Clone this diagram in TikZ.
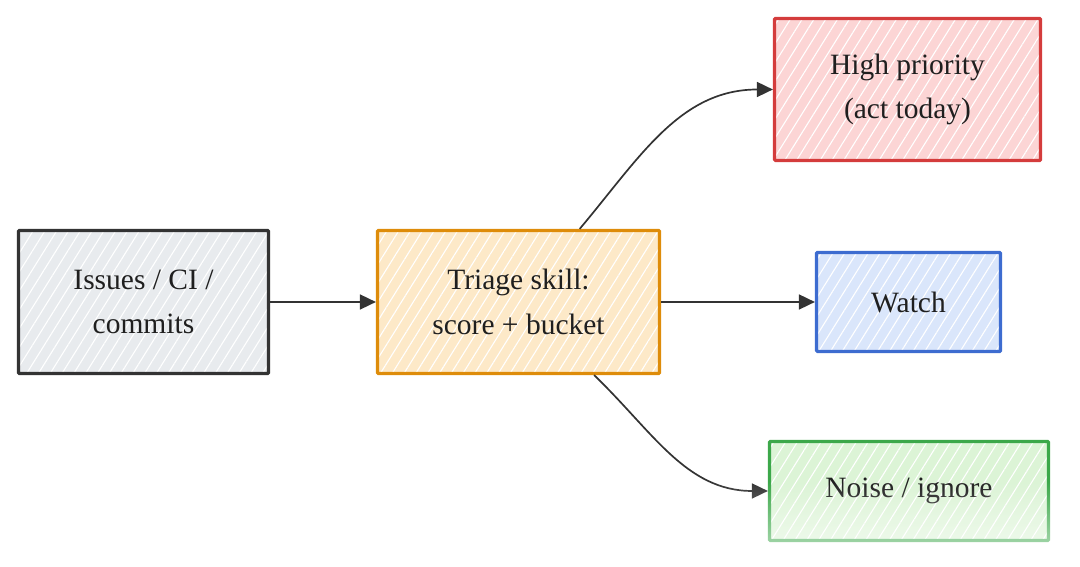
\documentclass[tikz,border=0pt]{standalone}
\usepackage{fontspec}
\setmainfont{Liberation Serif}
\usetikzlibrary{arrows.meta,patterns.meta,fadings}

\definecolor{inkgrey}{HTML}{333333}
\definecolor{fillgrey}{HTML}{E8EBEE}
\definecolor{inkorange}{HTML}{DE8C0A}
\definecolor{fillorange}{HTML}{FDE9C8}
\definecolor{inkred}{HTML}{D43C3C}
\definecolor{fillred}{HTML}{FCD5D5}
\definecolor{inkblue}{HTML}{3D6CD0}
\definecolor{fillblue}{HTML}{DAE6FB}
\definecolor{inkgreen}{HTML}{3CA84A}
\definecolor{fillgreen}{HTML}{DCF4D6}

\tikzfading[name=fadedown, top color=transparent!100, bottom color=transparent!30]

\begin{document}
\begin{tikzpicture}[x=1pt,y=1pt,
		box/.style 2 args={draw=#1, line width=3.2pt, rounded corners=1pt,
			preaction={fill=#2},
			preaction={pattern={Lines[angle=58,distance=10pt,line width=1.1pt]}, pattern color=white, fill opacity=0.85},
			align=center, inner sep=0pt, text=black!88,
			font=\fontsize{29.5}{44.5}\selectfont},
		link/.style={draw=inkgrey, line width=1.7pt, -{Triangle[length=16pt,width=15pt]}}]
		\useasboundingbox (0,0) rectangle (1080,567);
		%\draw[color=gray!40,step=50] (0,0) grid (1080,567);
		\begin{scope}
		\node[box={inkgrey}{fillgrey}, minimum width=250, minimum height=143] (issues) at (143.5,265) {Issues / CI /\\commits};
		\node[box={inkorange}{fillorange}, minimum width=282, minimum height=143] (triage) at (518.5,265) {Triage skill:\\score + bucket};
		\node[box={inkred}{fillred}, minimum width=266, minimum height=142] (high) at (907.5,477.5) {High priority\\(act today)};
		\node[box={inkblue}{fillblue}, minimum width=184, minimum height=99] (watch) at (908.5,265) {Watch};
		\node[box={inkgreen}{fillgreen}, minimum width=279, minimum height=99] (noise) at (909,76) {Noise / ignore};
		\end{scope}
		\draw[link] (issues.east) -- (triage.west);
		\draw[link] (triage.east) -- (watch.west);
		\draw[link] (triage) to[out=50,in=180] (high.west);
		\draw[link] (triage) to[out=-44,in=180] (noise.west);
		% bottom edge of the picture fades out
		\fill[white, path fading=fadedown] (0,0) rectangle (1080,86);
		\end{tikzpicture}
\end{document}
